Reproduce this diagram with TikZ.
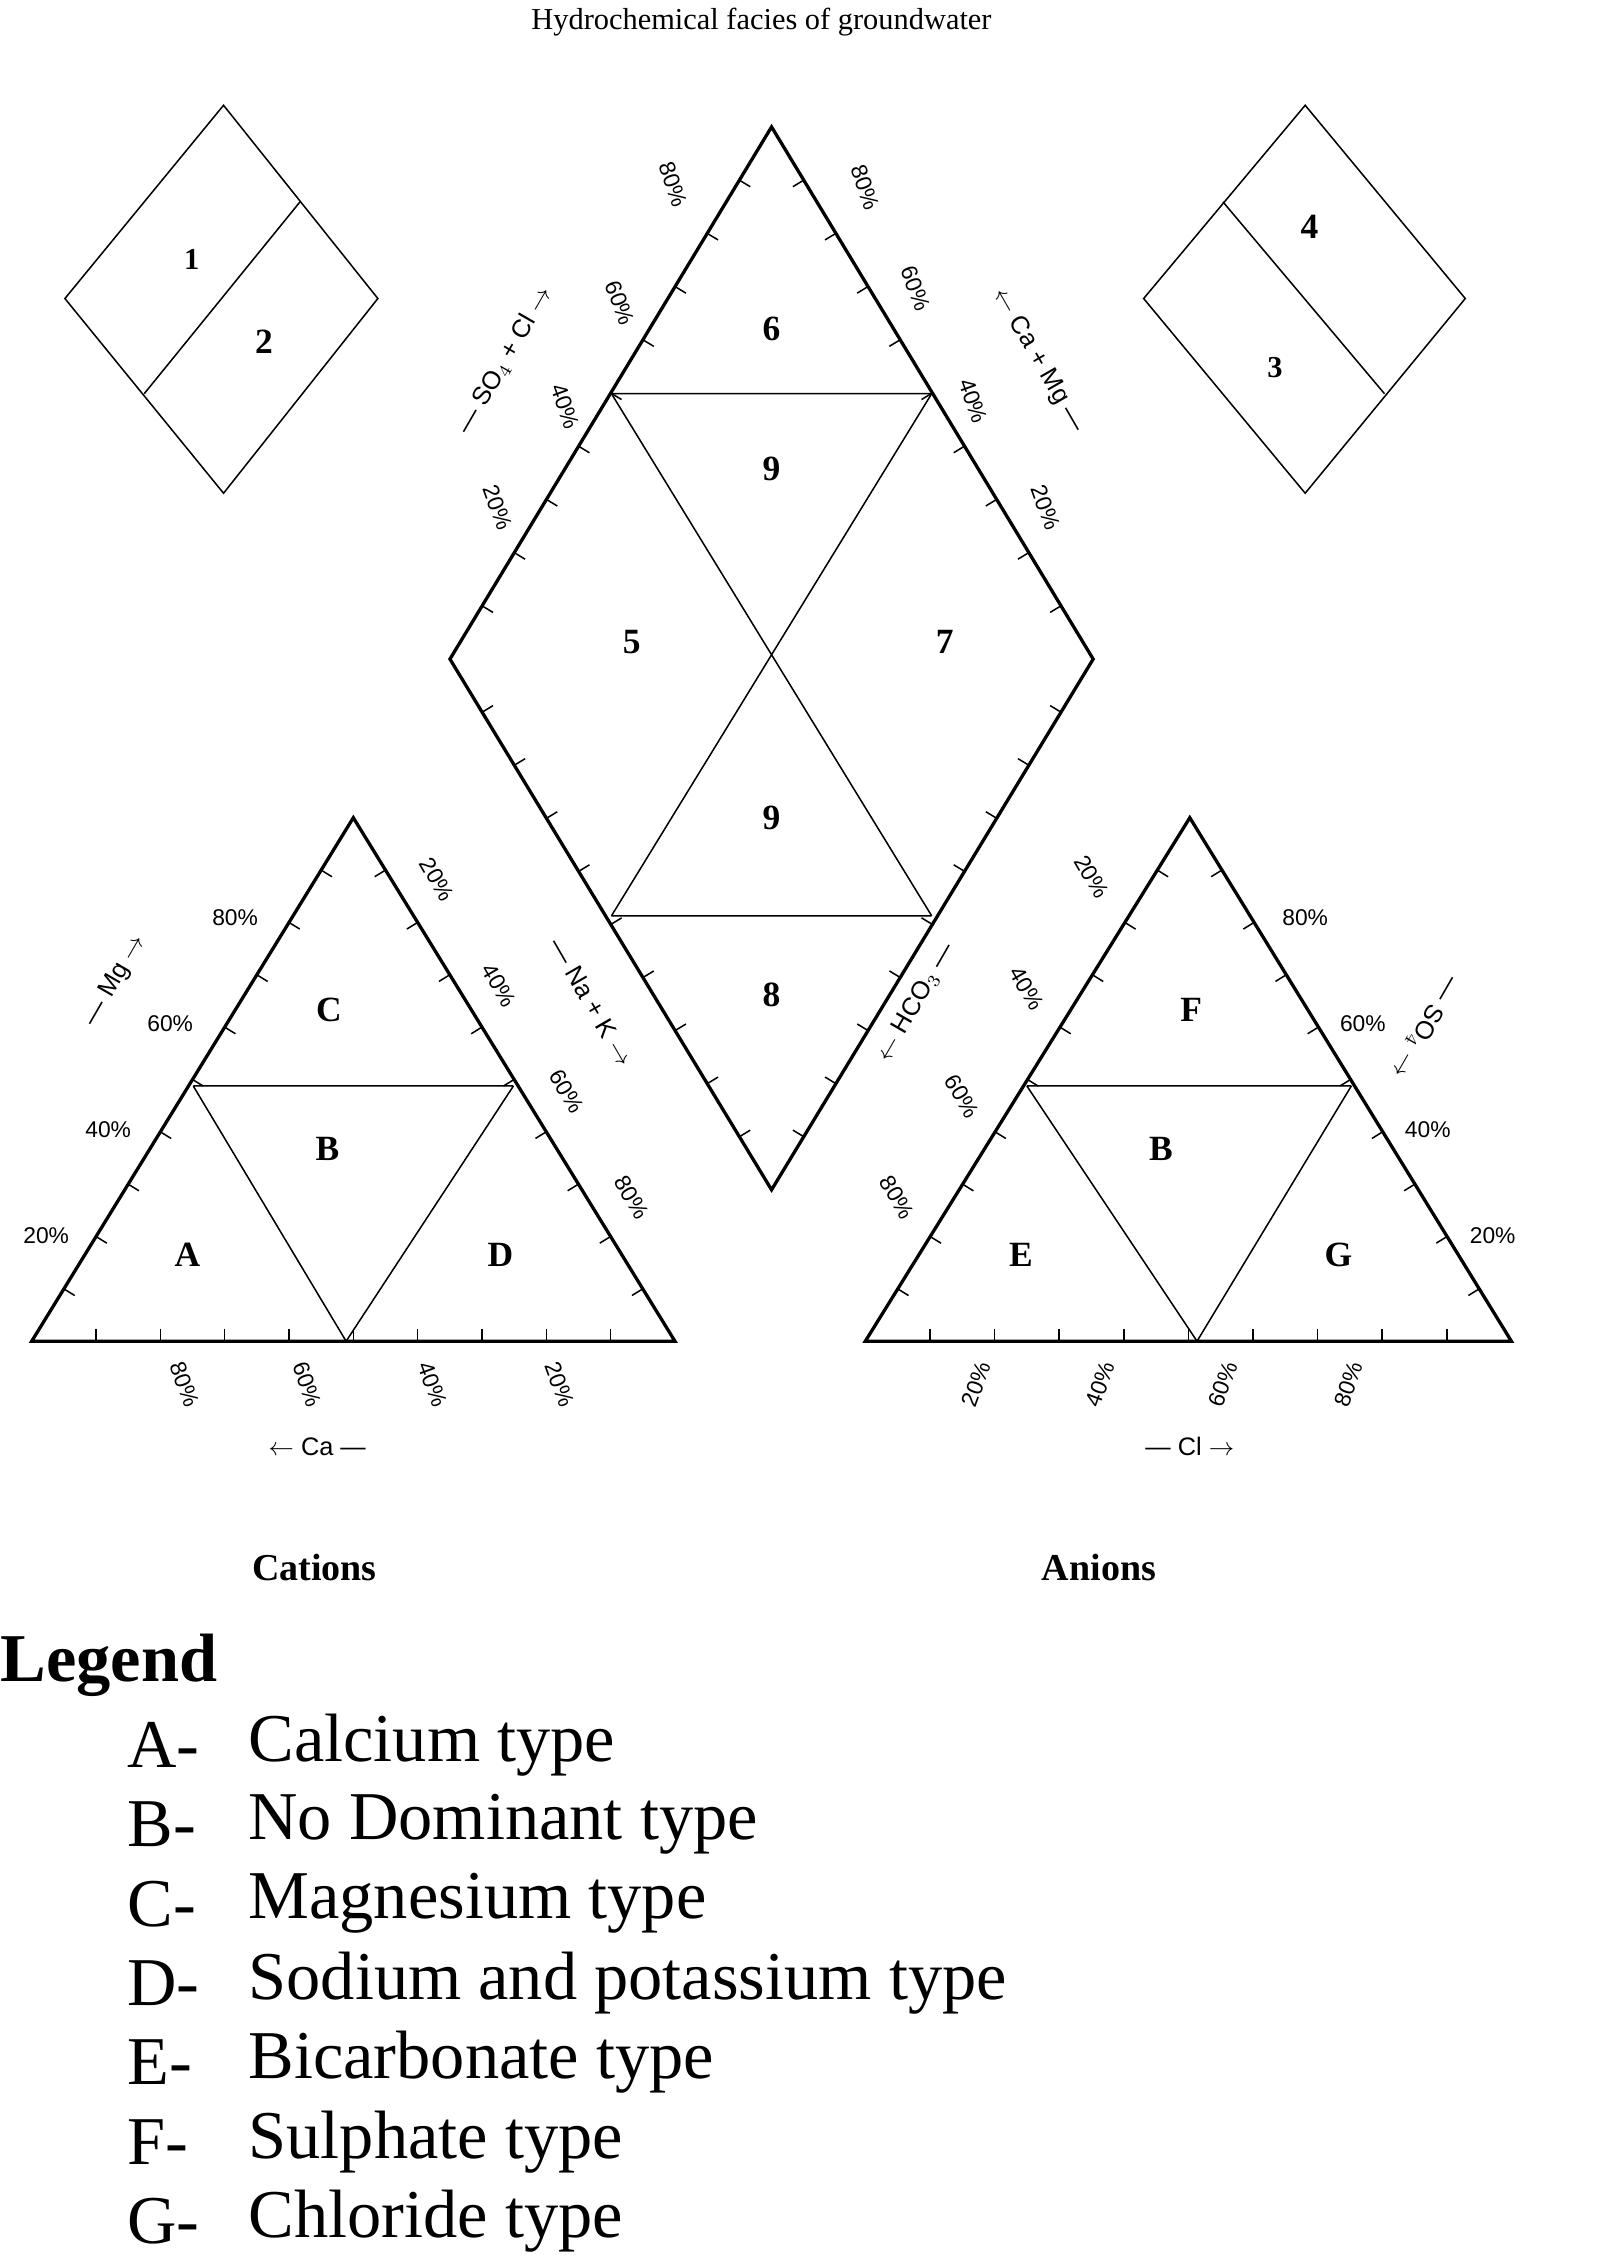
\documentclass[tikz,border=0pt]{standalone}
\usepackage{fontspec}
\setmainfont{Liberation Serif}
\setsansfont{Liberation Sans}
\usetikzlibrary{calc}
\begin{document}
\begin{tikzpicture}[x=0.02cm,y=-0.02cm,
  edge/.style={line width=1.3pt},
  thin/.style={line width=0.6pt},
  reg/.style={font=\fontsize{14}{16}\selectfont\bfseries},
  pct/.style={font=\sffamily\fontsize{9}{10}\selectfont},
  ax/.style={font=\sffamily\fontsize{10}{11}\selectfont},
  leg/.style={font=\fontsize{27}{31}\selectfont,anchor=west}]
\useasboundingbox (0,0) rectangle (1122,1565);
\newcommand\tickedge[2]{\foreach \t in {0.1,0.2,...,0.91}{\draw[thin] ($(#1)!\t!(#2)$) -- ($($(#1)!\t!(#2)$)!5pt!-90:(#2)$);}}
% title
\node (title) at (528,15) {\fontsize{12}{14}\selectfont Hydrochemical facies of groundwater};
% left triangle
\coordinate (LA) at (22,930); \coordinate (LB) at (468,930); \coordinate (LC) at (245,567);
\draw[edge] (LA) -- (LB) -- (LC) -- cycle;
\tickedge{LA}{LC}\tickedge{LC}{LB}\tickedge{LB}{LA}
\coordinate (L1) at (134,753); \coordinate (L2) at (356,753); \coordinate (L3) at (240,930);
\draw[thin] (L1) -- (L2) (L1) -- (L3) -- (L2);
\node[reg] (A) at (130,870) {A}; \node[reg] (B1) at (227,797) {B};
\node[reg] (C) at (228,700) {C}; \node[reg] (D) at (347,870) {D};
\foreach \p/\x/\y in {80/163/636,60/118/710,40/75/783,20/32/857} \node[pct] at (\x,\y) {\p\%};
\foreach \p/\x/\y in {20/303/610,40/346/683,60/393/757,80/438/830} \node[pct,rotate=-60] at (\x,\y) {\p\%};
\foreach \p/\x/\y in {80/128/960,60/213/960,40/300/960,20/388/960} \node[pct,rotate=-70] at (\x,\y) {\p\%};
\node[ax,rotate=60] (mg) at (80,680) {--- Mg $\rightarrow$};
\node[ax] (ca) at (220,1003) {$\leftarrow$ Ca ---};
% right triangle
\coordinate (RA) at (600,930); \coordinate (RB) at (1048,930); \coordinate (RC) at (825,567);
\draw[edge] (RA) -- (RB) -- (RC) -- cycle;
\tickedge{RA}{RC}\tickedge{RC}{RB}\tickedge{RB}{RA}
\coordinate (R1) at (712,753); \coordinate (R2) at (937,753); \coordinate (R3) at (830,930);
\draw[thin] (R1) -- (R2) (R1) -- (R3) -- (R2);
\node[reg] (E) at (708,870) {E}; \node[reg] (B2) at (805,797) {B};
\node[reg] (F) at (826,700) {F}; \node[reg] (G) at (928,870) {G};
\foreach \p/\x/\y in {20/757/608,40/712/685,60/667/760,80/622/830} \node[pct,rotate=-60] at (\x,\y) {\p\%};
\foreach \p/\x/\y in {80/905/636,60/945/710,40/990/783,20/1035/857} \node[pct] at (\x,\y) {\p\%};
\foreach \p/\x/\y in {20/677/960,40/763/960,60/848/960,80/935/960} \node[pct,rotate=70] at (\x,\y) {\p\%};
\node[ax,rotate=-120] (so4) at (988,712) {--- SO$_4$ $\rightarrow$};
\node[ax] (cl) at (825,1003) {--- Cl $\rightarrow$};
% diamond
\coordinate (DT) at (535,88); \coordinate (DL) at (312,457); \coordinate (DR) at (758,457); \coordinate (DB) at (535,825);
\draw[edge] (DT) -- (DR) -- (DB) -- (DL) -- cycle;
\tickedge{DL}{DT}\tickedge{DT}{DR}\tickedge{DR}{DB}\tickedge{DB}{DL}
\coordinate (D1) at (424,273); \coordinate (D2) at (646,273); \coordinate (D3) at (424,635); \coordinate (D4) at (646,635);
\draw[thin] (D1) -- (D2) (D3) -- (D4) (D1) -- (D4) (D2) -- (D3);
\node[reg] (n6) at (535,228) {6}; \node[reg] (n9a) at (535,325) {9};
\node[reg] (n5) at (438,445) {5}; \node[reg] (n7) at (655,445) {7};
\node[reg] (n9b) at (535,567) {9}; \node[reg] (n8) at (535,690) {8};
\foreach \p/\x/\y in {80/467/128,60/430/210,40/392/282,20/345/352} \node[pct,rotate=-70] at (\x,\y) {\p\%};
\foreach \p/\x/\y in {80/600/130,60/635/200,40/675/278,20/725/352} \node[pct,rotate=-70] at (\x,\y) {\p\%};
\node[ax,rotate=60] (so4cl) at (350,250) {--- SO$_4$ + Cl $\rightarrow$};
\node[ax,rotate=-60] (camg) at (720,250) {$\leftarrow$ Ca + Mg ---};
\node[ax,rotate=-60] (nak) at (410,695) {--- Na + K $\rightarrow$};
\node[ax,rotate=60] (hco3) at (635,695) {$\leftarrow$ HCO$_3$ ---};
% small diamonds
\draw[thin] (155,73) -- (262,207) -- (155,342) -- (45,207) -- cycle;
\draw[thin] (208,140) -- (100,273);
\node[reg,font=\fontsize{12}{14}\selectfont\bfseries] (s1) at (133,180) {1};
\node[reg] (s2) at (183,237) {2};
\draw[thin] (905,73) -- (1016,207) -- (905,342) -- (793,207) -- cycle;
\draw[thin] (848,140) -- (960,273);
\node[reg] (s4) at (908,157) {4};
\node[reg,font=\fontsize{12}{14}\selectfont\bfseries] (s3) at (884,255) {3};
% captions
\node (cat) at (218,1087) {\fontsize{15}{17}\selectfont\bfseries Cations};
\node (an) at (762,1087) {\fontsize{15}{17}\selectfont\bfseries Anions};
\node[anchor=west,inner sep=0pt] (lg) at (0,1155) {\fontsize{27}{31}\selectfont\bfseries Legend};
\foreach \l/\t/\y in {A/Calcium type/1210,B/No Dominant type/1265,C/Magnesium type/1320,D/Sodium and potassium type/1375,E/Bicarbonate type/1430,F/Sulphate type/1485,G/Chloride type/1540}{
  \node[leg,inner sep=0pt] at (88,\y) {\l-};
  \node[leg,inner sep=0pt] at (172,\y) {\t};}
\end{tikzpicture}
\end{document}
